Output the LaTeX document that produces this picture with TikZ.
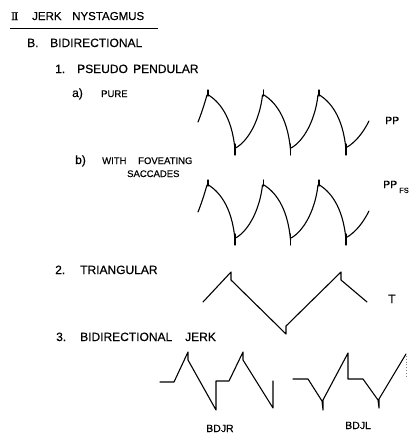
\documentclass[tikz,border=0pt]{standalone}
\usepackage{fontspec}
\setmainfont{Liberation Sans}[FakeBold=0.4]
\newfontfamily\numfont{Liberation Serif}[FakeBold=0.4]
\begin{document}
\begin{tikzpicture}[x=1pt,y=-1pt,
  wave/.style={line width=1.1pt, line join=round, line cap=round},
  hdr/.style={anchor=base west, inner sep=0pt, font=\fontsize{11.5}{13}\selectfont},
  big/.style={anchor=base west, inner sep=0pt, font=\fontsize{12}{14}\selectfont},
  small/.style={anchor=base west, inner sep=0pt, font=\fontsize{9.5}{11}\selectfont},
  lab/.style={anchor=base west, inner sep=0pt, font=\fontsize{10.5}{12}\selectfont},
  sub/.style={anchor=base west, inner sep=0pt, font=\fontsize{7.5}{9}\selectfont}]
\useasboundingbox[fill=white] (0,0) rectangle (411,434);

% headings
\node[hdr] (roman) at (11,20) {\numfont I\kern-0.7pt I};
\node[hdr] (jerk) at (32,20) {JERK};
\node[hdr] (nyst) at (72,20) {NYSTAGMUS};
\draw[line width=0.9pt] (10,28.5) -- (158,28.5);

\node[big] (bdot) at (27,47) {B.};
\node[big] (bidir) at (50,47) {BIDIRECTIONAL};
\node[big] (one) at (55,73) {1.};
\node[big] (pseudo) at (77,73) {PSEUDO};
\node[big] (pend) at (133,73) {PENDULAR};
\node[big] (aa) at (72,97) {a)};
\node[small] (pure) at (101,97) {PURE};
\node[big] (bb) at (75,164) {b)};
\node[small] (with) at (102,164) {WITH};
\node[small] (fov) at (138,164) {FOVEATING};
\node[small] (sacc) at (127,177) {SACCADES};
\node[big] (two) at (55,274) {2.};
\node[big] (tri) at (80,274) {TRIANGULAR};
\node[big] (three) at (56,341) {3.};
\node[big] (bidir2) at (80,341) {BIDIRECTIONAL};
\node[big] (jerk2) at (185,341) {JERK};

% labels
\node[lab] (pp) at (385,124) {PP};
\node[lab] (ppfs) at (383,188) {PP};
\node[sub] (fs) at (399,193) {FS};
\node[big] (tlab) at (388,303) {T};
\node[lab] (bdjr) at (206,432) {BDJR};
\node[lab] (bdjl) at (345,429) {BDJL};

% pseudo pendular waves
\foreach \yo in {0,90}{
  \begin{scope}[shift={(0,\yo)}]
    \draw[wave] (198,122) .. controls (202,112) and (205,102) .. (207,95);
    \foreach \k in {0,1,2}{
      \pgfmathsetmacro{\p}{208+55.5*\k}
      \pgfmathsetmacro{\b}{235+55.5*\k}
      \pgfmathsetmacro{\q}{208+55.5*(\k+1)}
      \draw[wave] (\p,90) -- (\p,96);
      \draw[wave] (\p+0.5,95) .. controls (\p+10,101) and (\b-3,115) .. (\b,150);
      \draw[wave] (\b,144) -- (\b,155);
      \ifnum\k<2
        \draw[wave] (\b+0.5,148) .. controls (\b+12,142) and (\q-4,122) .. (\q-1,95);
      \fi
    }
    \draw[wave] (345.5,148) .. controls (355,143) and (363,133) .. (369,121);
  \end{scope}
}

% triangular
\draw[wave] (203,302) -- (231,272) -- (231,280) -- (286,334) -- (286,326)
  -- (341,272) -- (341,280) -- (367,302);

% bidirectional jerk right
\draw[wave] (160,382) -- (174,382) -- (188,352) -- (188,360) -- (216,410)
  -- (216,381) -- (229,381) -- (243,352) -- (243,360) -- (273,408) -- (273,381);

% bidirectional jerk left
\draw[wave] (293,379) -- (308,379) -- (322,401) -- (323,410) -- (323,400)
  -- (348,353) -- (348,379) -- (363,379) -- (378,400) -- (379,408) -- (379,399)
  -- (406,354);
\draw[line width=0.8pt, dotted, gray] (406,356) -- (406,378);
\end{tikzpicture}
\end{document}
